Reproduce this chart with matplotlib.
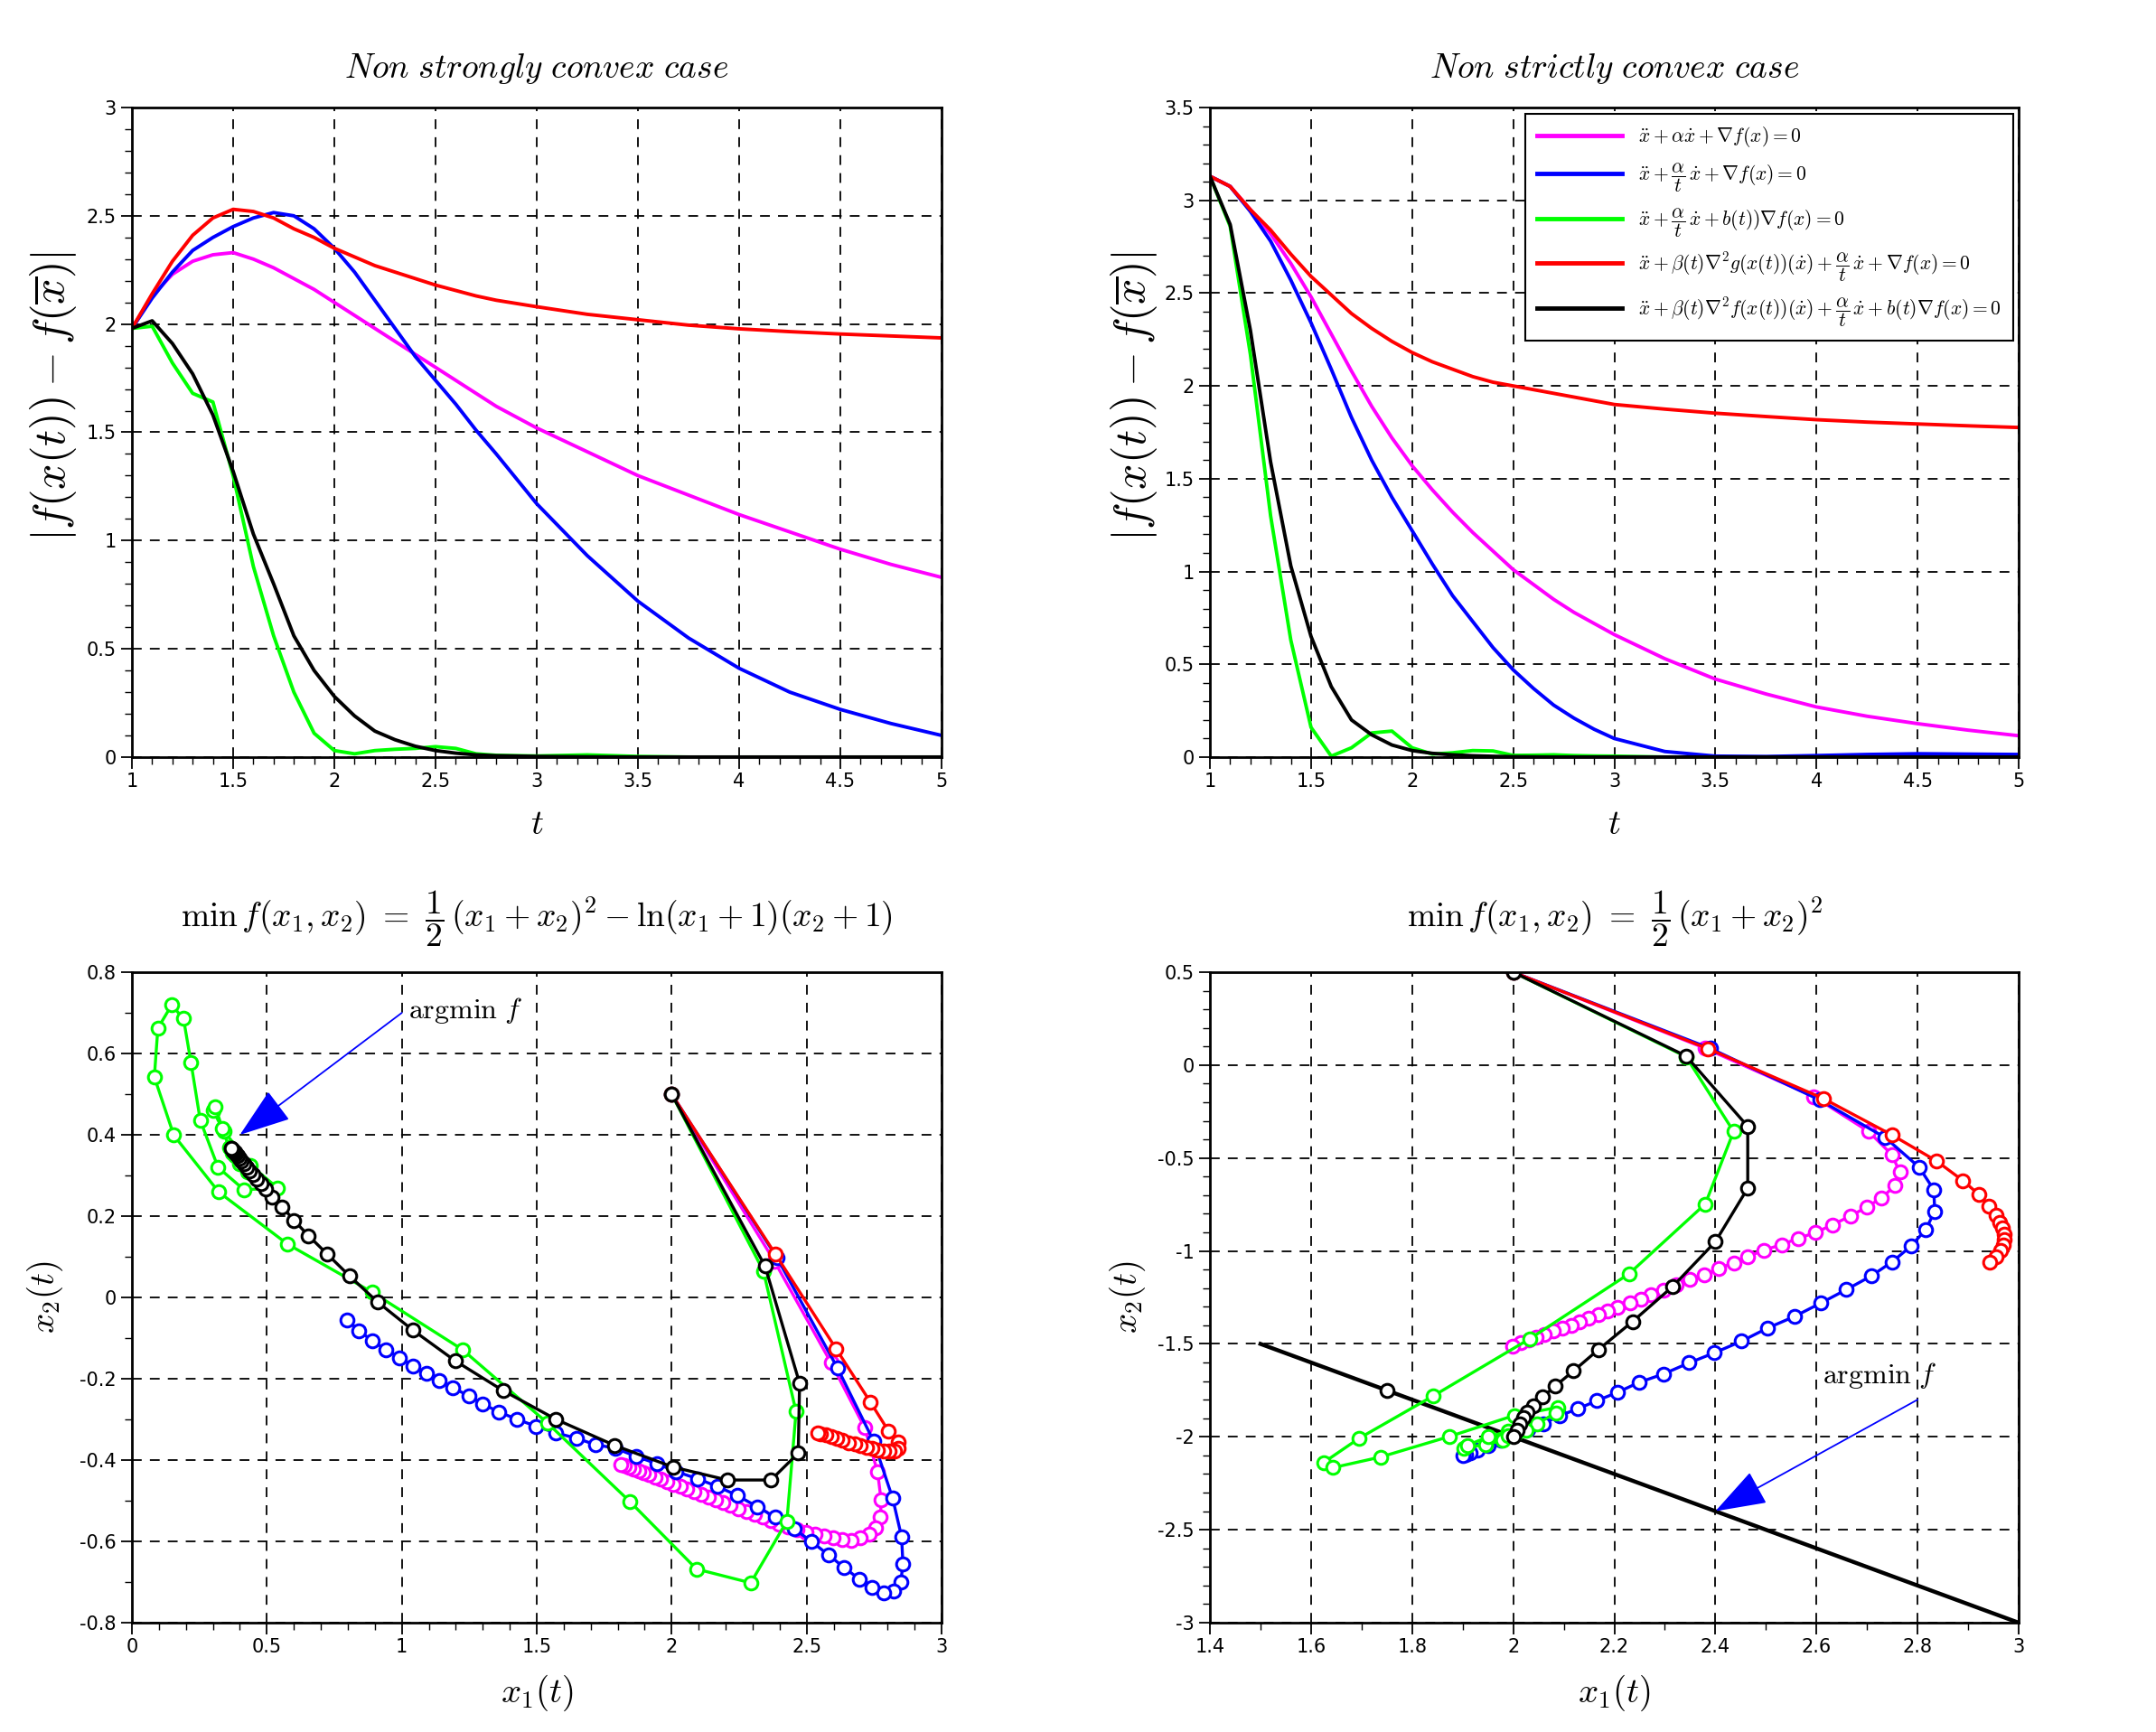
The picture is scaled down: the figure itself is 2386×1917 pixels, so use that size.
import numpy as np
import matplotlib
matplotlib.use('Agg')
import matplotlib.pyplot as plt
from matplotlib.ticker import MultipleLocator, FormatStrFormatter

plt.rcParams['mathtext.fontset'] = 'cm'
plt.rcParams['font.family'] = ['Liberation Sans Narrow', 'DejaVu Sans']

colors = ['#ff00ff', '#0000ff', '#00ff00', '#ff0000', '#000000']
labels = [r'$\ddot{x} + \alpha\dot{x} + \nabla f(x) = 0$',
          r'$\ddot{x} + \dfrac{\alpha}{t}\,\dot{x} + \nabla f(x) = 0$',
          r'$\ddot{x} + \dfrac{\alpha}{t}\,\dot{x} + b(t))\nabla f(x) = 0$',
          r'$\ddot{x} + \beta(t)\nabla^2 g(x(t))(\dot{x}) + \dfrac{\alpha}{t}\,\dot{x} + \nabla f(x) = 0$',
          r'$\ddot{x} + \beta(t)\nabla^2 f(x(t))(\dot{x}) + \dfrac{\alpha}{t}\,\dot{x} + b(t)\nabla f(x) = 0$']

# --- top left : non strongly convex case ---
tl_t = [1.0, 1.1, 1.2, 1.3, 1.4, 1.5, 1.6, 1.7, 1.8, 1.9, 2.0, 2.1, 2.2, 2.3, 2.4, 2.5, 2.6, 2.7, 2.8,
        3.0, 3.25, 3.5, 3.75, 4.0, 4.25, 4.5, 4.75, 5.0]
tl_magenta = [1.98, 2.13, 2.23, 2.29, 2.32, 2.33, 2.30, 2.26, 2.21, 2.16, 2.10, 2.04, 1.98, 1.92, 1.86, 1.80, 1.74, 1.68, 1.62,
              1.52, 1.41, 1.30, 1.21, 1.12, 1.04, 0.96, 0.89, 0.83]
tl_blue = [1.98, 2.12, 2.24, 2.34, 2.40, 2.45, 2.49, 2.515, 2.50, 2.44, 2.35, 2.24, 2.11, 1.98, 1.85, 1.74, 1.63, 1.51, 1.40,
           1.17, 0.93, 0.72, 0.55, 0.41, 0.30, 0.22, 0.155, 0.10]
tl_green = [1.98, 1.99, 1.82, 1.68, 1.64, 1.30, 0.88, 0.56, 0.30, 0.11, 0.03, 0.015, 0.03, 0.036, 0.04, 0.048, 0.04, 0.015, 0.008,
            0.005, 0.01, 0.003, 0.0, 0.0, 0.0, 0.0, 0.0, 0.0]
tl_red = [1.98, 2.14, 2.29, 2.41, 2.49, 2.53, 2.52, 2.49, 2.44, 2.40, 2.35, 2.31, 2.27, 2.24, 2.21, 2.18, 2.155, 2.13, 2.11,
          2.08, 2.045, 2.02, 1.995, 1.978, 1.965, 1.954, 1.945, 1.936]
tl_black = [1.98, 2.015, 1.91, 1.77, 1.58, 1.32, 1.03, 0.80, 0.56, 0.40, 0.28, 0.19, 0.12, 0.08, 0.05, 0.03, 0.018, 0.01, 0.006,
            0.003, 0.001, 0.0, 0.0, 0.0, 0.0, 0.0, 0.0, 0.0]

# --- top right : non strictly convex case ---
tr_t = [1.0, 1.1, 1.2, 1.3, 1.4, 1.5, 1.6, 1.7, 1.8, 1.9, 2.0, 2.1, 2.2, 2.3, 2.4, 2.5,
        2.6, 2.7, 2.8, 2.9, 3.0, 3.25, 3.5, 3.75, 4.0, 4.25, 4.5, 4.75, 5.0]
tr_magenta = [3.13, 3.075, 2.95, 2.82, 2.66, 2.48, 2.28, 2.08, 1.89, 1.72, 1.57, 1.44, 1.32, 1.21, 1.11, 1.01,
              0.93, 0.85, 0.78, 0.72, 0.66, 0.53, 0.42, 0.34, 0.27, 0.22, 0.18, 0.145, 0.115]
tr_blue = [3.13, 3.075, 2.94, 2.78, 2.57, 2.34, 2.09, 1.83, 1.60, 1.40, 1.22, 1.04, 0.87, 0.73, 0.59, 0.47,
           0.37, 0.28, 0.21, 0.15, 0.10, 0.03, 0.005, 0.003, 0.008, 0.014, 0.018, 0.016, 0.014]
tr_green = [3.13, 2.86, 2.17, 1.30, 0.63, 0.16, 0.005, 0.05, 0.13, 0.14, 0.05, 0.016, 0.023, 0.035, 0.033, 0.009,
            0.01, 0.012, 0.008, 0.006, 0.005, 0.0, 0.0, 0.0, 0.0, 0.0, 0.0, 0.0, 0.0]
tr_red = [3.13, 3.075, 2.95, 2.84, 2.71, 2.59, 2.49, 2.39, 2.31, 2.24, 2.18, 2.13, 2.09, 2.05, 2.02, 2.0,
          1.98, 1.96, 1.94, 1.92, 1.90, 1.875, 1.853, 1.835, 1.818, 1.805, 1.795, 1.785, 1.776]
tr_black = [3.13, 2.87, 2.30, 1.59, 1.03, 0.65, 0.38, 0.20, 0.12, 0.065, 0.035, 0.02, 0.012, 0.007, 0.004, 0.002,
            0.001, 0.0, 0.0, 0.0, 0.0, 0.0, 0.0, 0.0, 0.0, 0.0, 0.0, 0.0, 0.0]

# --- bottom left : trajectories (x1, x2) ---
bl_magenta_x1 = [2.0, 2.38, 2.59, 2.715, 2.763, 2.776, 2.774, 2.756, 2.731, 2.698, 2.664, 2.631, 2.597, 2.564, 2.530,
                 2.497, 2.463, 2.430, 2.398, 2.367, 2.336, 2.306, 2.276, 2.247, 2.218, 2.190, 2.162, 2.135, 2.108,
                 2.082, 2.056, 2.031, 2.006, 1.982, 1.959, 1.937, 1.916, 1.896, 1.877, 1.859, 1.842, 1.826, 1.812]
bl_magenta_x2 = [0.5, 0.09, -0.16, -0.32, -0.429, -0.498, -0.54, -0.566, -0.582, -0.592, -0.597, -0.596, -0.592, -0.587, -0.582,
                 -0.577, -0.571, -0.565, -0.557, -0.549, -0.541, -0.534, -0.526, -0.519, -0.512, -0.505, -0.498, -0.491, -0.484,
                 -0.478, -0.471, -0.465, -0.459, -0.453, -0.447, -0.442, -0.436, -0.431, -0.426, -0.422, -0.418, -0.414, -0.410]
bl_blue_x1 = [2.0, 2.39, 2.614, 2.748, 2.819, 2.852, 2.857, 2.849, 2.821, 2.787, 2.743, 2.696, 2.64, 2.581, 2.519, 2.454,
              2.385, 2.318, 2.243, 2.17, 2.096, 2.016, 1.946, 1.868, 1.792, 1.717, 1.646, 1.57, 1.498, 1.428, 1.361,
              1.30, 1.25, 1.19, 1.14, 1.09, 1.04, 0.99, 0.94, 0.889, 0.842, 0.798]
bl_blue_x2 = [0.5, 0.098, -0.173, -0.353, -0.494, -0.589, -0.656, -0.70, -0.722, -0.726, -0.713, -0.693, -0.665, -0.633, -0.601, -0.569,
              -0.541, -0.515, -0.487, -0.465, -0.446, -0.428, -0.409, -0.391, -0.371, -0.362, -0.346, -0.333, -0.317, -0.30, -0.282,
              -0.262, -0.243, -0.222, -0.205, -0.186, -0.168, -0.148, -0.128, -0.106, -0.082, -0.056]
bl_green_x1 = [2.0, 2.34, 2.461, 2.427, 2.293, 2.092, 1.845, 1.54, 1.224, 0.89, 0.577, 0.322, 0.155, 0.083, 0.096, 0.147,
               0.191, 0.219, 0.253, 0.319, 0.415, 0.54, 0.44, 0.34, 0.30, 0.309, 0.335, 0.36, 0.40, 0.43, 0.40, 0.37, 0.38]
bl_green_x2 = [0.5, 0.065, -0.281, -0.55, -0.702, -0.668, -0.502, -0.309, -0.128, 0.013, 0.131, 0.259, 0.399, 0.542, 0.662, 0.719,
               0.686, 0.577, 0.436, 0.32, 0.265, 0.269, 0.325, 0.41, 0.46, 0.47, 0.415, 0.37, 0.335, 0.31, 0.33, 0.355, 0.35]
bl_red_x1 = [2.0, 2.385, 2.609, 2.737, 2.804, 2.838, 2.840, 2.825, 2.805, 2.785, 2.764, 2.743, 2.721, 2.699, 2.677, 2.655,
             2.633, 2.611, 2.590, 2.570, 2.552, 2.540]
bl_red_x2 = [0.5, 0.106, -0.126, -0.258, -0.329, -0.355, -0.370, -0.377, -0.378, -0.377, -0.375, -0.372, -0.369, -0.365, -0.361, -0.357,
             -0.352, -0.347, -0.342, -0.338, -0.335, -0.333]
bl_black_x1 = [2.0, 2.346, 2.474, 2.469, 2.368, 2.206, 2.004, 1.789, 1.572, 1.375, 1.198, 1.04, 0.91, 0.806, 0.723, 0.654,
               0.60, 0.557, 0.52, 0.496, 0.478, 0.462, 0.448, 0.436, 0.425, 0.415, 0.406, 0.398, 0.391, 0.385, 0.38,
               0.376, 0.372, 0.369, 0.367]
bl_black_x2 = [0.5, 0.077, -0.211, -0.383, -0.449, -0.449, -0.417, -0.364, -0.30, -0.229, -0.156, -0.08, -0.011, 0.053, 0.107, 0.152,
               0.19, 0.223, 0.246, 0.266, 0.28, 0.291, 0.302, 0.312, 0.321, 0.329, 0.336, 0.343, 0.349, 0.354, 0.358,
               0.361, 0.364, 0.366, 0.367]

# --- bottom right : trajectories (x1, x2) ---
br_magenta_x1 = [2.0, 2.38, 2.595, 2.703, 2.749, 2.765, 2.755, 2.729, 2.70, 2.667, 2.631, 2.598, 2.563, 2.531, 2.496, 2.464,
                 2.436, 2.406, 2.378, 2.349, 2.323, 2.298, 2.272, 2.252, 2.231, 2.207, 2.187, 2.169, 2.149, 2.131, 2.115,
                 2.098, 2.080, 2.062, 2.046, 2.031, 2.015, 1.998]
br_magenta_x2 = [0.5, 0.09, -0.17, -0.357, -0.482, -0.576, -0.649, -0.714, -0.763, -0.812, -0.860, -0.901, -0.933, -0.966, -0.995, -1.031,
                 -1.063, -1.096, -1.128, -1.153, -1.182, -1.209, -1.234, -1.258, -1.279, -1.302, -1.323, -1.344, -1.364, -1.383, -1.399,
                 -1.416, -1.432, -1.448, -1.464, -1.477, -1.494, -1.51]
br_blue_x1 = [2.0, 2.39, 2.606, 2.736, 2.803, 2.832, 2.834, 2.816, 2.787, 2.75, 2.708, 2.659, 2.608, 2.556, 2.503, 2.452,
              2.398, 2.348, 2.297, 2.249, 2.206, 2.166, 2.128, 2.092, 2.059, 2.03, 2.0, 1.975, 1.95, 1.93, 1.915, 1.905, 1.90]
br_blue_x2 = [0.5, 0.09, -0.187, -0.39, -0.549, -0.67, -0.787, -0.885, -0.974, -1.058, -1.135, -1.208, -1.281, -1.353, -1.415, -1.485,
              -1.548, -1.602, -1.662, -1.707, -1.761, -1.805, -1.849, -1.886, -1.93, -1.96, -1.99, -2.02, -2.045, -2.07, -2.085, -2.095, -2.1]
br_green_x1 = [2.0, 2.342, 2.436, 2.38, 2.229, 2.033, 1.841, 1.695, 1.625, 1.643, 1.737, 1.874, 2.002, 2.089, 2.085, 2.047,
               1.98, 1.946, 1.903, 1.91, 1.95, 1.99, 2.02, 2.025, 2.005, 1.99]
br_green_x2 = [0.5, 0.045, -0.357, -0.747, -1.123, -1.472, -1.781, -2.008, -2.138, -2.166, -2.109, -1.998, -1.885, -1.841, -1.87, -1.93,
               -2.02, -2.04, -2.06, -2.045, -2.0, -1.97, -1.955, -1.965, -1.985, -1.995]
br_red_x1 = [2.0, 2.385, 2.613, 2.75, 2.837, 2.89, 2.922, 2.941, 2.955, 2.963, 2.968, 2.971, 2.972, 2.97, 2.965, 2.955, 2.943]
br_red_x2 = [0.5, 0.089, -0.179, -0.377, -0.515, -0.622, -0.698, -0.758, -0.807, -0.844, -0.877, -0.909, -0.94, -0.97, -0.998, -1.03, -1.058]
br_black_x1 = [2.0, 2.342, 2.464, 2.464, 2.40, 2.316, 2.236, 2.168, 2.119, 2.083, 2.058, 2.04, 2.028, 2.02, 2.014, 2.008, 2.0]
br_black_x2 = [0.5, 0.049, -0.33, -0.662, -0.95, -1.19, -1.38, -1.532, -1.646, -1.727, -1.787, -1.833, -1.865, -1.898, -1.93, -1.963, -2.0]
argmin_x1 = [1.5, 3.0]
argmin_x2 = [-1.5, -3.0]
argmin_pt = (1.75, -1.75)


def style_axes(ax, xlim, ylim, xmaj, xmin, ymaj, ymin):
    ax.set_xlim(xlim)
    ax.set_ylim(ylim)
    ax.xaxis.set_major_locator(MultipleLocator(xmaj))
    ax.xaxis.set_minor_locator(MultipleLocator(xmin))
    ax.yaxis.set_major_locator(MultipleLocator(ymaj))
    ax.yaxis.set_minor_locator(MultipleLocator(ymin))
    ax.xaxis.set_major_formatter(FormatStrFormatter('%g'))
    ax.yaxis.set_major_formatter(FormatStrFormatter('%g'))
    ax.set_axisbelow(True)
    ax.grid(True, which='major', color='k', linestyle=(0, (6, 5)), linewidth=1.3)
    ax.tick_params(which='major', direction='out', length=9, width=1.3, labelsize=15)
    ax.tick_params(which='minor', direction='out', length=6, width=1.0)
    for s in ax.spines.values():
        s.set_linewidth(2)


fig = plt.figure(figsize=(23.86, 19.17), dpi=100)
ax_tl = fig.add_axes([0.0612, 0.5629, 0.3755, 0.375])
ax_tr = fig.add_axes([0.5612, 0.5629, 0.3751, 0.375])
ax_bl = fig.add_axes([0.0612, 0.0631, 0.3755, 0.3756])
ax_br = fig.add_axes([0.5612, 0.0631, 0.3751, 0.3756])

# top panels
for vals, c, lab in zip([tl_magenta, tl_blue, tl_green, tl_red, tl_black], colors, labels):
    ax_tl.plot(tl_t, vals, color=c, lw=2.8, label=lab)
for vals, c, lab in zip([tr_magenta, tr_blue, tr_green, tr_red, tr_black], colors, labels):
    ax_tr.plot(tr_t, vals, color=c, lw=2.8, label=lab)

style_axes(ax_tl, (1, 5), (0, 3), 0.5, 0.1, 0.5, 0.1)
style_axes(ax_tr, (1, 5), (0, 3.5), 0.5, 0.1, 0.5, 0.1)

for ax, title, lx in [(ax_tl, r'$\mathit{Non\ strongly\ convex\ case}$', -0.066),
                      (ax_tr, r'$\mathit{Non\ strictly\ convex\ case}$', -0.063)]:
    ax.text(0.5, 1.06, title, transform=ax.transAxes, ha='center', va='center', fontsize=27)
    ax.set_xlabel(r'$t$', fontsize=28)
    ax.xaxis.set_label_coords(0.5, -0.077)
    ax.set_ylabel(r'$|f(x(t))-f(\overline{x})|$', fontsize=36)
    ax.yaxis.set_label_coords(lx, 0.555)

leg = ax_tr.legend(loc='upper right', fontsize=15.5, handlelength=4.4, fancybox=False, edgecolor='k',
                   framealpha=1, borderaxespad=0.3, labelspacing=0.6, borderpad=0.6)
leg.get_frame().set_linewidth(1.5)
for line in leg.get_lines():
    line.set_linewidth(3.5)

# bottom panels
mk = dict(marker='o', ms=10.5, mfc='white', mew=2.2, lw=2.4)
bl_series = [(bl_magenta_x1, bl_magenta_x2), (bl_blue_x1, bl_blue_x2), (bl_green_x1, bl_green_x2),
             (bl_red_x1, bl_red_x2), (bl_black_x1, bl_black_x2)]
br_series = [(br_magenta_x1, br_magenta_x2), (br_blue_x1, br_blue_x2), (br_green_x1, br_green_x2),
             (br_red_x1, br_red_x2), (br_black_x1, br_black_x2)]
for (x1, x2), c in zip(bl_series, colors):
    ax_bl.plot(x1, x2, color=c, mec=c, **mk)
ax_br.plot(argmin_x1, argmin_x2, color='k', lw=3.2)
ax_br.plot([argmin_pt[0]], [argmin_pt[1]], color='k', mec='k', **mk)
for (x1, x2), c in zip(br_series, colors):
    ax_br.plot(x1, x2, color=c, mec=c, **mk)

style_axes(ax_bl, (0, 3), (-0.8, 0.8), 0.5, 0.1, 0.2, 0.1)
style_axes(ax_br, (1.4, 3), (-3, 0.5), 0.2, 0.1, 0.5, 0.1)

arrow = dict(arrowstyle='-|>,head_length=0.6,head_width=0.21', color='#0000ff', lw=1.3,
             mutation_scale=60, shrinkA=0, shrinkB=0)
ax_bl.annotate('', xy=(0.4, 0.4), xytext=(1.0, 0.7), arrowprops=arrow)
ax_bl.text(1.025, 0.705, r'$\mathrm{argmin}\ f$', fontsize=23, va='center', ha='left')
ax_br.annotate('', xy=(2.4, -2.4), xytext=(2.8, -1.8), arrowprops=arrow)
ax_br.text(2.612, -1.67, r'$\mathrm{argmin}\ f$', fontsize=23, va='center', ha='left')

ax_bl.text(0.5, 1.082, r'$\min\, f(x_1,x_2)\ =\ \dfrac{1}{2}\,(x_1+x_2)^2 - \ln(x_1+1)(x_2+1)$',
           transform=ax_bl.transAxes, ha='center', va='center', fontsize=27)
ax_br.text(0.5, 1.082, r'$\min\, f(x_1,x_2)\ =\ \dfrac{1}{2}\,(x_1+x_2)^2$',
           transform=ax_br.transAxes, ha='center', va='center', fontsize=27)
for ax, lx in [(ax_bl, -0.083), (ax_br, -0.077)]:
    ax.set_xlabel(r'$x_1(t)$', fontsize=28)
    ax.xaxis.set_label_coords(0.5, -0.078)
    ax.set_ylabel(r'$x_2(t)$', fontsize=28)
    ax.yaxis.set_label_coords(lx, 0.5)

fig.savefig('out.png', dpi=100)
